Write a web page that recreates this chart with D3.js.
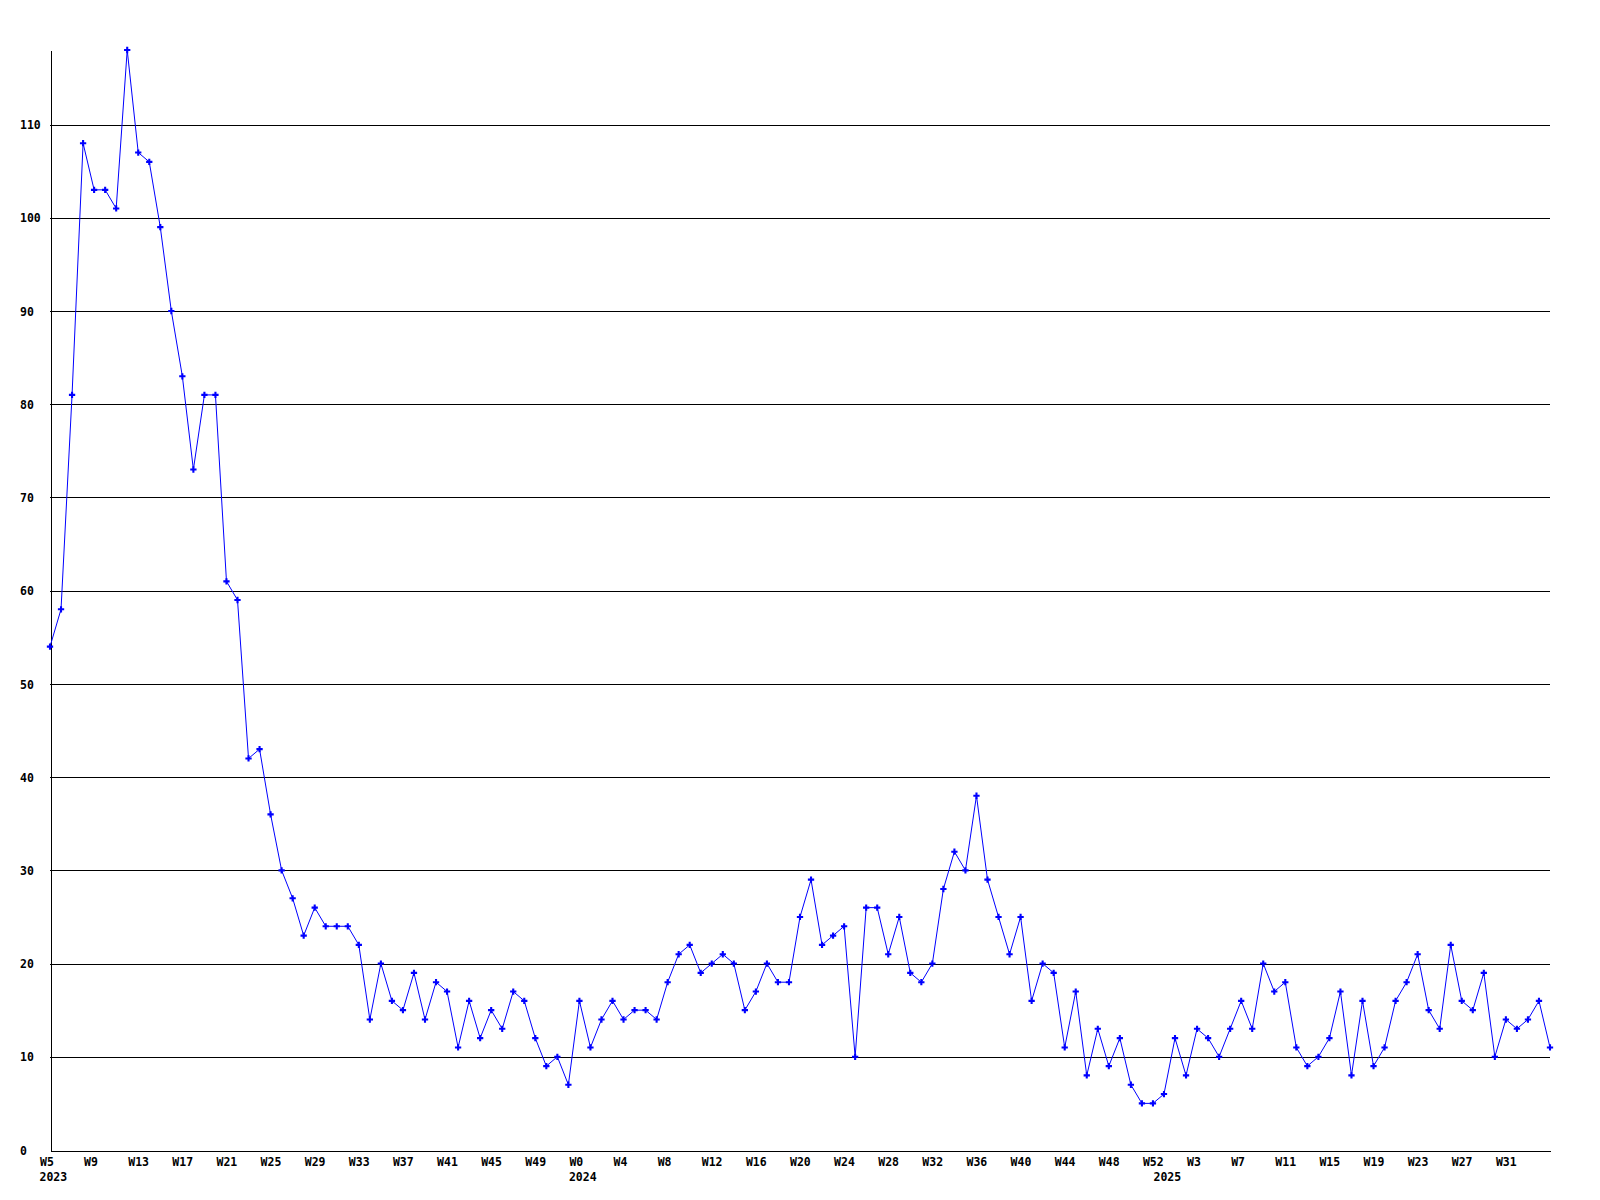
<!DOCTYPE html>
<html>
<head>
<meta charset="utf-8">
<script src="https://cdn.jsdelivr.net/npm/d3@7"></script>
<style>
  html, body { margin: 0; padding: 0; background: #ffffff; }
  svg { display: block; }
  text { font-family: "DejaVu Sans Mono", "Liberation Mono", monospace; font-weight: bold; font-size: 11.5px; fill: #000; }
</style>
</head>
<body>
<svg id="chart" width="1600" height="1200"></svg>
<script>
// ---- data ----
const years = [2023, 2024, 2025];
const weeks2023 = [5,6,7,8,9,10,11,12,13,14,15,16,17,18,19,20,21,22,23,24,25,26,27,28,29,30,31,32,33,34,35,36,37,38,39,40,41,42,43,44,45,46,47,48,49,50,51,52];
const weeks2024 = [0,1,2,3,4,5,6,7,8,9,10,11,12,13,14,15,16,17,18,19,20,21,22,23,24,25,26,27,28,29,30,31,32,33,34,35,36,37,38,39,40,41,42,43,44,45,46,47,48,49,50,51,52];
const weeks2025 = [0,1,2,3,4,5,6,7,8,9,10,11,12,13,14,15,16,17,18,19,20,21,22,23,24,25,26,27,28,29,30,31,32,33,34,35];
const values2023 = [54,58,81,108,103,103,101,118,107,106,99,90,83,73,81,81,61,59,42,43,36,30,27,23,26,24,24,24,22,14,20,16,15,19,14,18,17,11,16,12,15,13,17,16,12,9,10,7];
const values2024 = [16,11,14,16,14,15,15,14,18,21,22,19,20,21,20,15,17,20,18,18,25,29,22,23,24,10,26,26,21,25,19,18,20,28,32,30,38,29,25,21,25,16,20,19,11,17,8,13,9,12,7,5,5];
const values2025 = [6,12,8,13,12,10,13,16,13,20,17,18,11,9,10,12,17,8,16,9,11,16,18,21,15,13,22,16,15,19,10,14,13,14,16,11];
const yTicks = [0,10,20,30,40,50,60,70,80,90,100,110];
const labelEvery = 4;

// ---- build table ----
const weekLists = [weeks2023, weeks2024, weeks2025];
const valueLists = [values2023, values2024, values2025];
const data = [];
years.forEach((yr, yi) => {
  weekLists[yi].forEach((w, wi) => {
    data.push({ key: yr + "-W" + w, year: yr, week: w, value: valueLists[yi][wi], first: wi === 0 });
  });
});

const svg = d3.select("#chart");
const mLeft = 50, mRight = 1550, mTop = 50, mBottom = 1150;

const x = d3.scalePoint().domain(data.map(d => d.key)).range([mLeft, mRight]).padding(0);
const y = d3.scaleLinear().domain([0, d3.max(data, d => d.value)]).range([mBottom, mTop]);

// gridlines
svg.append("g").selectAll("line")
  .data(yTicks.filter(t => t > 0))
  .join("line")
  .attr("x1", mLeft).attr("x2", mRight)
  .attr("y1", d => Math.round(y(d)) + 0.5).attr("y2", d => Math.round(y(d)) + 0.5)
  .attr("stroke", "#000").attr("stroke-width", 1)
  .attr("shape-rendering", "crispEdges");

// y axis
const yAxis = svg.append("g")
  .attr("transform", `translate(${mLeft + 0.5},0)`)
  .call(d3.axisLeft(y).tickValues(yTicks).tickSize(0).tickSizeOuter(0).tickFormat(d3.format("d")));
yAxis.attr("font-family", null).attr("font-size", null);
yAxis.select(".domain").attr("stroke", "#000").attr("shape-rendering", "crispEdges");
yAxis.selectAll("text")
  .attr("text-anchor", "start")
  .attr("x", 19.5 - mLeft)
  .attr("dy", "0.36em");

// x axis (every 4th week labelled; the final point carries no label)
const tickKeys = data.filter((d, i) => i % labelEvery === 0 && i < data.length - 1).map(d => d.key);
const byKey = new Map(data.map(d => [d.key, d]));
const xAxis = svg.append("g")
  .attr("transform", `translate(0,${mBottom + 0.5})`)
  .call(d3.axisBottom(x).tickValues(tickKeys).tickSize(0).tickSizeOuter(0)
    .tickFormat(k => "W" + byKey.get(k).week));
xAxis.attr("font-family", null).attr("font-size", null);
xAxis.select(".domain").attr("stroke", "#000").attr("shape-rendering", "crispEdges");
xAxis.selectAll("text")
  .attr("text-anchor", "start")
  .attr("x", -10.5)
  .attr("y", 15)
  .attr("dy", 0);

// year labels
svg.append("g").selectAll("text")
  .data(data.filter(d => d.first))
  .join("text")
  .attr("x", d => x(d.key) - 10.5)
  .attr("y", mBottom + 31)
  .text(d => d.year);

// line
svg.append("path")
  .datum(data)
  .attr("fill", "none")
  .attr("stroke", "#0000ff")
  .attr("stroke-width", 1)
  .attr("d", d3.line().x(d => x(d.key)).y(d => y(d.value)));

// markers
svg.append("g").selectAll("path")
  .data(data)
  .join("path")
  .attr("transform", d => `translate(${x(d.key)},${y(d.value)})`)
  .attr("d", d3.symbol(d3.symbolCross, 22))
  .attr("fill", "#0000ff");
</script>
</body>
</html>
